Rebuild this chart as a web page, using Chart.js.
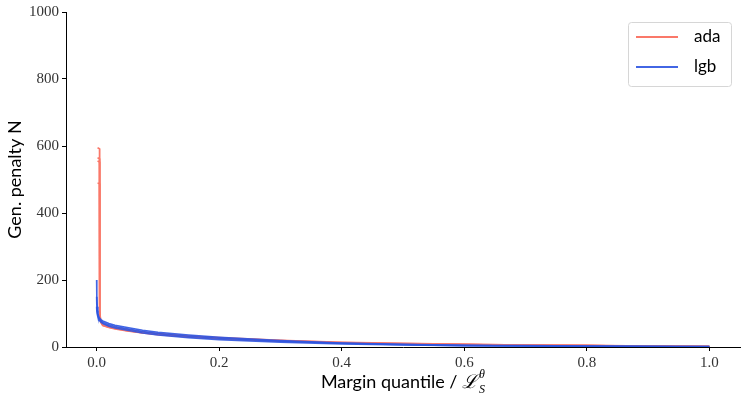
<!DOCTYPE html>
<html>
<head>
<meta charset="utf-8">
<script src="https://cdn.jsdelivr.net/npm/chart.js@4.4.0/dist/chart.umd.min.js"></script>
<style>
  html, body { margin: 0; padding: 0; background: #fff; }
  #chart { display: block; }
</style>
</head>
<body>
<canvas id="chart" width="748" height="402"></canvas>
<script>
// margin quantiles for each model
const adaX = [0.0015, 0.0047, 0.0048, 0.0052, 0.0065, 0.01, 0.02, 0.03, 0.05, 0.075, 0.1, 0.15, 0.2, 0.3, 0.4, 0.5, 0.6, 0.7, 0.8, 0.9, 1.0];
const lgbX = [0, 0.0003, 0.001, 0.002, 0.004, 0.007, 0.01, 0.02, 0.03, 0.05, 0.075, 0.1, 0.15, 0.2, 0.3, 0.4, 0.5, 0.6, 0.7, 0.8, 0.9, 1.0];

// generalisation penalty, one list per run
const adaRun1 = [595, 592, 200, 110, 80, 68, 62, 58, 52, 45, 40, 33, 28, 20, 14, 11, 8, 6, 5, 3, 2];
const adaRun2 = [565, 562, 190, 105, 78, 66, 60, 56, 50, 44, 39, 32, 27, 19, 13, 10, 8, 6, 4, 3, 1];
const adaRun3 = [555, 552, 180, 100, 76, 65, 59, 55, 49, 43, 38, 31, 26, 18, 12, 9, 7, 5, 4, 2, 1];
const adaRun4 = [490, 487, 170, 96, 74, 64, 58, 54, 48, 42, 37, 30, 25, 17, 12, 9, 7, 5, 4, 2, 1];

const lgbRun1 = [200, 150, 120, 100, 88, 82, 78, 70, 65, 58, 50, 44, 36, 29, 19, 12, 8, 5, 4, 3, 2, 1];
const lgbRun2 = [150, 125, 108, 95, 84, 78, 74, 66, 61, 54, 46, 40, 32, 26, 17, 11, 7, 4, 3, 2, 1, 1];
const lgbRun3 = [120, 108, 98, 90, 80, 74, 70, 62, 57, 50, 42, 36, 28, 22, 14, 9, 6, 4, 3, 2, 1, 0];

const xTicks = [0, 0.2, 0.4, 0.6, 0.8, 1.0];
const yTicks = [0, 200, 400, 600, 800, 1000];

const ADA = 'rgb(250,120,105)';
const LGB = 'rgba(45,85,225,0.9)';
const TICK_FONT = { family: "'Liberation Serif', serif", size: 15 };

function pts(xs, ys) {
    return xs.map((x, i) => ({ x: x, y: ys[i] }));
}

function run(label, xs, ys, color, order) {
    return {
        label: label,
        data: pts(xs, ys),
        borderColor: color,
        borderWidth: 1.6,
        pointRadius: 0,
        fill: false,
        tension: 0,
        order: order
    };
}

const datasets = [
    run('ada', adaX, adaRun1, ADA, 2),
    run('ada', adaX, adaRun2, ADA, 2),
    run('ada', adaX, adaRun3, ADA, 2),
    run('ada', adaX, adaRun4, ADA, 2),
    run('lgb', lgbX, lgbRun1, LGB, 1),
    run('lgb', lgbX, lgbRun2, LGB, 1),
    run('lgb', lgbX, lgbRun3, LGB, 1)
];

// legend box + x title with script L, drawn inside the canvas
const extras = {
    id: 'extras',
    afterDraw(chart) {
        const ctx = chart.ctx;
        const area = chart.chartArea;

        // legend
        const bx = 628, by = 22, bw = 103, bh = 64;
        ctx.save();
        ctx.fillStyle = 'rgba(255,255,255,0.8)';
        ctx.strokeStyle = '#d6d6d6';
        ctx.lineWidth = 1;
        ctx.beginPath();
        ctx.roundRect(bx + 0.5, by + 0.5, bw, bh, 3);
        ctx.fill();
        ctx.stroke();
        const items = [['ada', ADA, 37], ['lgb', LGB, 67]];
        ctx.font = '17px Lato';
        ctx.textBaseline = 'middle';
        ctx.textAlign = 'left';
        items.forEach(([name, col, y]) => {
            ctx.strokeStyle = col;
            ctx.lineWidth = 1.8;
            ctx.beginPath();
            ctx.moveTo(636, y);
            ctx.lineTo(678, y);
            ctx.stroke();
            ctx.fillStyle = '#000';
            ctx.fillText(name, 694, y);
        });

        // x axis title
        const main = 'Margin quantile / ';
        ctx.fillStyle = '#000';
        ctx.textBaseline = 'alphabetic';
        ctx.font = '18px Lato';
        const w1 = ctx.measureText(main).width;
        ctx.font = 'italic 19px "Liberation Serif"';
        const w2 = ctx.measureText('ℒ').width;
        ctx.font = 'italic 12px "Liberation Serif"';
        const w3 = Math.max(ctx.measureText('θ').width, ctx.measureText('S').width);
        const total = w1 + w2 + w3 + 1;
        let x = (area.left + area.right) / 2 - total / 2;
        const base = 388;
        ctx.font = '18px Lato';
        ctx.fillText(main, x, base);
        x += w1;
        ctx.font = 'italic 19px "Liberation Serif"';
        ctx.fillText('ℒ', x, base);
        x += w2 + 1;
        ctx.font = 'italic 12px "Liberation Serif"';
        ctx.fillText('θ', x, base - 10);
        ctx.fillText('S', x, base + 5);
        ctx.restore();
    }
};

new Chart(document.getElementById('chart'), {
    type: 'line',
    data: { datasets: datasets },
    options: {
        responsive: false,
        animation: false,
        layout: { padding: { top: 4, right: 8, left: 0, bottom: 0 } },
        plugins: {
            legend: { display: false },
            tooltip: { enabled: false }
        },
        scales: {
            x: {
                type: 'linear',
                min: -0.05,
                max: 1.05,
                afterBuildTicks: (axis) => {
                    axis.ticks = xTicks.map(v => ({ value: v }));
                },
                afterFit: (axis) => { axis.height = 55; },
                ticks: {
                    color: '#333',
                    font: TICK_FONT,
                    padding: 3,
                    maxRotation: 0,
                    callback: (v) => Number(v).toFixed(1)
                },
                grid: { drawOnChartArea: false, drawTicks: true, tickLength: 4, color: '#000' },
                border: { display: true, color: '#000', width: 1 }
            },
            y: {
                min: 0,
                max: 1000,
                afterBuildTicks: (axis) => {
                    axis.ticks = yTicks.map(v => ({ value: v }));
                },
                afterFit: (axis) => { axis.width = 66; },
                ticks: {
                    color: '#333',
                    font: TICK_FONT,
                    padding: 3,
                    callback: (v) => String(v)
                },
                title: {
                    display: true,
                    text: 'Gen. penalty N',
                    color: '#000',
                    font: { family: 'Lato', size: 18 },
                    padding: { top: 4, bottom: 0 }
                },
                grid: { drawOnChartArea: false, drawTicks: true, tickLength: 4, color: '#000' },
                border: { display: true, color: '#000', width: 1 }
            }
        }
    },
    plugins: [extras]
});
</script>
</body>
</html>
